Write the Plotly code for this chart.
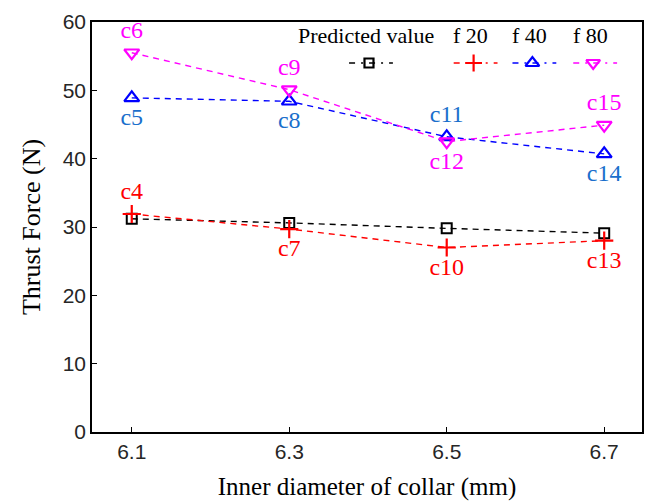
import plotly.graph_objects as go

# Inner diameter of collar (mm)
diameters = [6.1, 6.3, 6.5, 6.7]

# Thrust force (N) for each series
predicted = [31.2, 30.6, 29.8, 29.1]
f20 = [31.9, 29.7, 27.0, 28.0]
f40 = [48.9, 48.4, 43.2, 40.7]
f80 = [55.5, 50.1, 42.5, 44.9]

# Case labels printed next to the points
f20_labels = ["c4", "c7", "c10", "c13"]
f40_labels = ["c5", "c8", "c11", "c14"]
f80_labels = ["c6", "c9", "c12", "c15"]

series_names = ["Predicted value", "f 20", "f 40", "f 80"]
y_ticks = [0, 10, 20, 30, 40, 50, 60]

SERIF = "Liberation Serif"
SANS = "Liberation Sans"
DASH = "6px,5px"

fig = go.Figure()

styles = [
    dict(color="black", symbol="square-open", size=10),
    dict(color="#ff0000", symbol="cross-thin", size=13),
    dict(color="#0000ff", symbol="triangle-up-open", size=13),
    dict(color="#ff00ff", symbol="triangle-down-open", size=13),
]

# Predicted value (no labels)
fig.add_trace(go.Scatter(
    x=diameters, y=predicted, mode="lines+markers",
    line=dict(color="black", width=1.4, dash=DASH),
    marker=dict(symbol="square-open", size=10, color="black",
                line=dict(width=2, color="black")),
    showlegend=False, cliponaxis=False,
))

def labelled(yvals, labels, positions, color, symbol, size, text_color):
    fig.add_trace(go.Scatter(
        x=diameters, y=yvals, mode="lines+markers+text",
        line=dict(color=color, width=1.4, dash=DASH),
        marker=dict(symbol=symbol, size=size, color=color,
                    line=dict(width=2.2, color=color)),
        text=labels, textposition=positions,
        textfont=dict(family=SERIF, size=24, color=text_color),
        showlegend=False, cliponaxis=False,
    ))

labelled(f20, f20_labels,
         ["top center", "bottom center", "bottom center", "bottom center"],
         "#ff0000", "cross-thin", 13, "#ff0000")
labelled(f40, f40_labels,
         ["bottom center", "bottom center", "top center", "bottom center"],
         "#0000ff", "triangle-up-open", 13, "#1a6fcc")
labelled(f80, f80_labels,
         ["top center", "top center", "bottom center", "top center"],
         "#ff00ff", "triangle-down-open", 13, "#ff00ff")

# Legend key: header text above a dash-dot sample with the marker, drawn on
# an overlay axis whose units follow the plot-area width.
key_centers = [370, 475, 534, 595]
key_y = 63
for name, cx, st in zip(series_names, key_centers, styles):
    fig.add_trace(go.Scatter(
        x=[cx - 20, cx, cx + 24], y=[key_y] * 3,
        xaxis="x2", yaxis="y2", mode="lines+markers",
        line=dict(color=st["color"], width=1.4, dash="6px,6px,2px,6px"),
        marker=dict(symbol=st["symbol"], size=[0, st["size"] - 1, 0],
                    color=st["color"], opacity=[0, 1, 0],
                    line=dict(width=2.2, color=st["color"])),
        showlegend=False, hoverinfo="skip",
    ))
    fig.add_annotation(
        x=cx - 3, y=key_y - 28, xref="x2", yref="y2", text=name,
        showarrow=False, font=dict(family=SERIF, size=22, color="black"),
    )

axis_common = dict(
    showline=True, linecolor="black", linewidth=1.5, mirror=True,
    ticks="inside", ticklen=5, tickwidth=1.3, tickcolor="black",
    showgrid=False, zeroline=False,
    tickfont=dict(family=SANS, size=21, color="#262626"),
)

fig.update_layout(
    width=649, height=501,
    margin=dict(l=92, r=5, t=22, b=69),
    paper_bgcolor="white", plot_bgcolor="white",
    showlegend=False,
    xaxis=dict(
        range=[6.0495, 6.748], tickvals=diameters,
        ticktext=[f"{d:.1f}" for d in diameters],
        title=dict(text="Inner diameter of collar (mm)",
                   font=dict(family=SERIF, size=25, color="black"),
                   standoff=16),
        **axis_common,
    ),
    yaxis=dict(
        range=[0, 60], tickvals=y_ticks,
        title=dict(text="Thrust Force (N)",
                   font=dict(family=SERIF, size=26, color="black"),
                   standoff=15),
        **axis_common,
    ),
    xaxis2=dict(domain=[0, 1], range=[92, 644], visible=False,
                overlaying="x", anchor="y2"),
    yaxis2=dict(domain=[0, 1], range=[432, 22], visible=False,
                overlaying="y", anchor="x2"),
)

fig.write_html("out.html")
